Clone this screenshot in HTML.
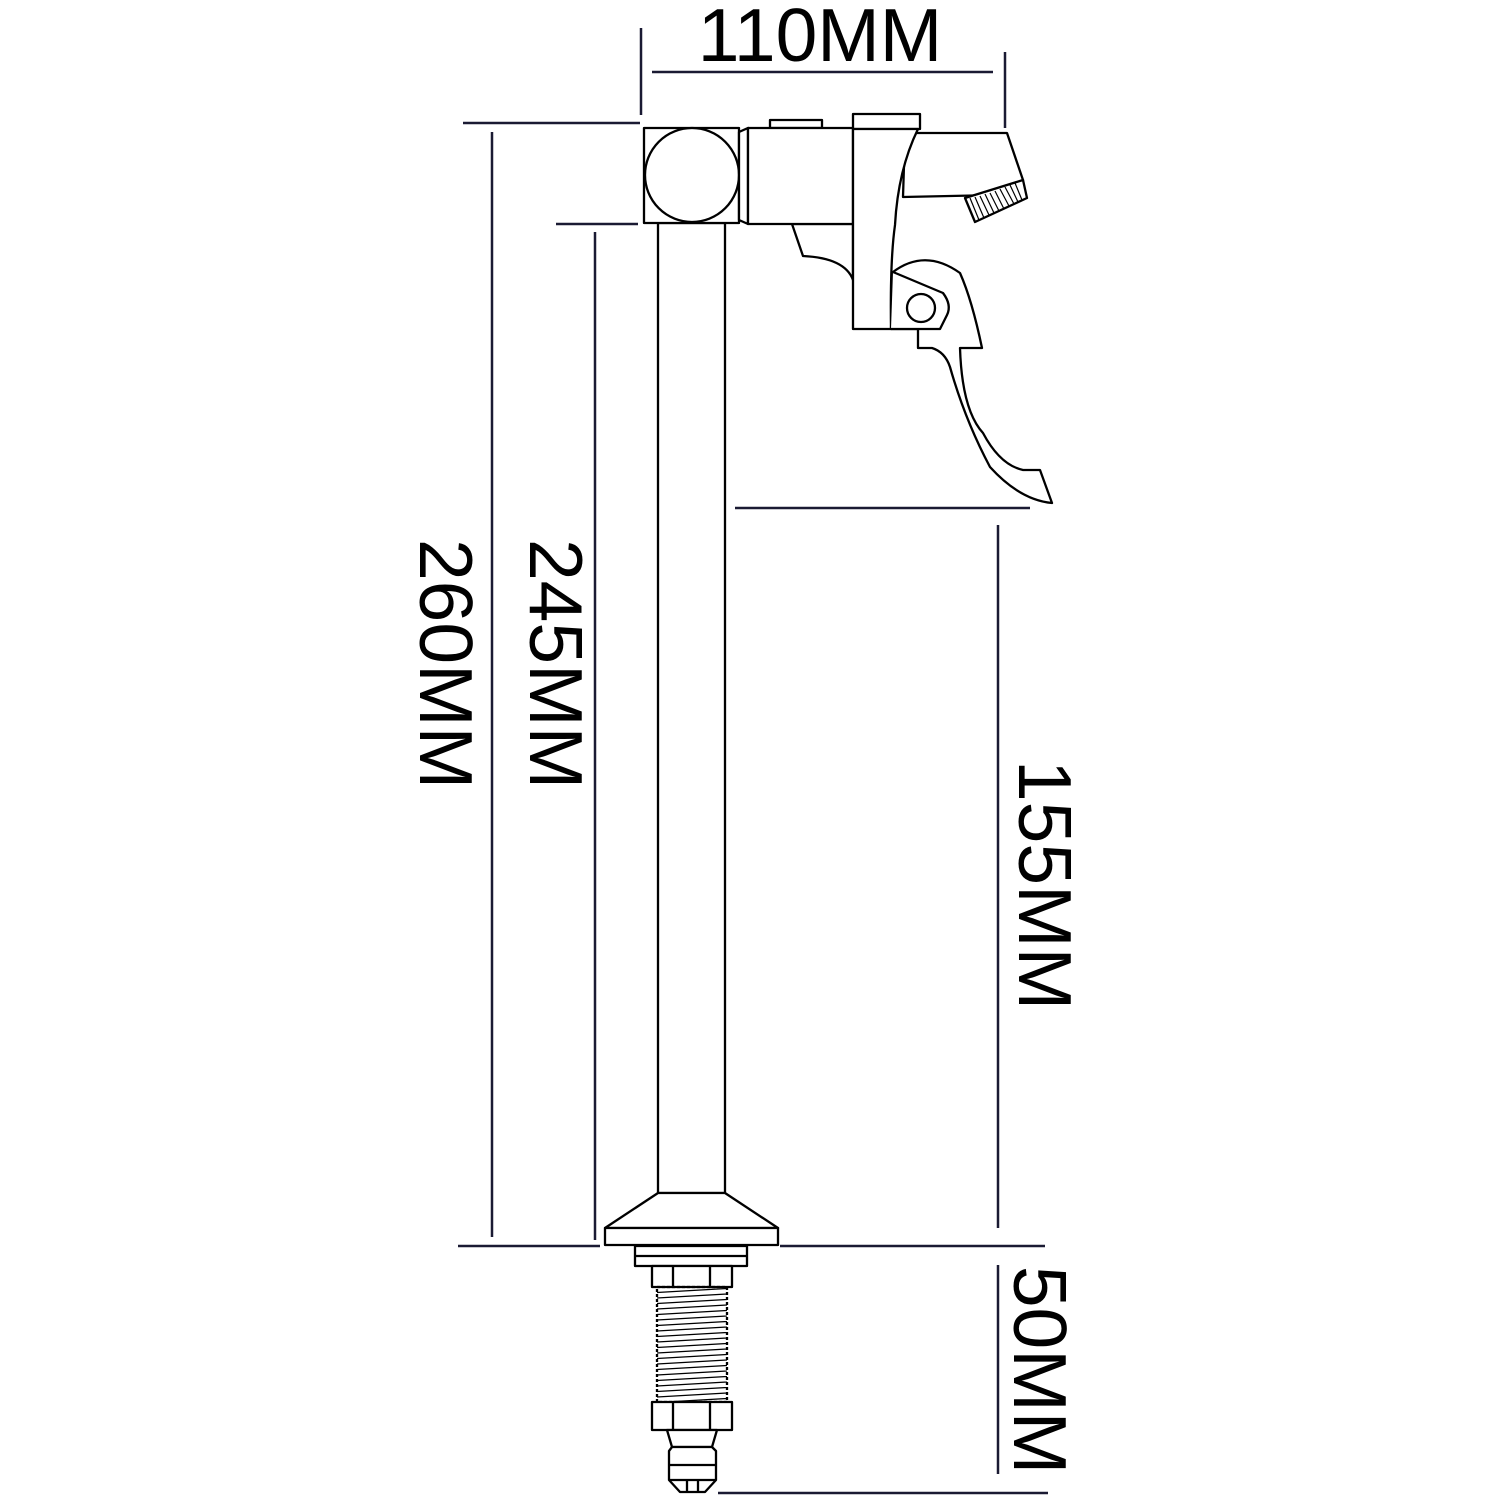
<!DOCTYPE html>
<html><head><style>html,body{margin:0;padding:0;background:#fff}svg{display:block}</style></head><body>
<svg width="1500" height="1500" viewBox="0 0 1500 1500" xmlns="http://www.w3.org/2000/svg">
<defs>
<pattern id="th" patternUnits="userSpaceOnUse" x="657" y="1288" width="70" height="5.5">
<line x1="0" y1="4.5" x2="70" y2="0.5" stroke="#000" stroke-width="1.3"/>
</pattern>
</defs>
<g stroke="#1a1a33" stroke-width="2.5" fill="none">
<line x1="641" y1="28" x2="641" y2="115"/>
<line x1="1005" y1="52" x2="1005" y2="128"/>
<line x1="652" y1="72" x2="993" y2="72"/>
<line x1="463" y1="123" x2="640" y2="123"/>
<line x1="492" y1="132" x2="492" y2="1237"/>
<line x1="458" y1="1246" x2="600" y2="1246"/>
<line x1="780" y1="1246" x2="1045" y2="1246"/>
<line x1="556" y1="224" x2="638" y2="224"/>
<line x1="595" y1="232" x2="595" y2="1240"/>
<line x1="735" y1="508" x2="1030" y2="508"/>
<line x1="998" y1="525" x2="998" y2="1228"/>
<line x1="998" y1="1265" x2="998" y2="1474"/>
<line x1="718" y1="1493" x2="1048" y2="1493"/>
</g>
<g stroke="#000" stroke-width="2.3" fill="#fff" stroke-linejoin="round">
<rect x="658" y="223" width="67" height="970"/>
<rect x="644" y="128" width="95" height="95"/>
<circle cx="692" cy="175" r="47"/>
<path d="M739 132 L748 128 L748 224 L739 220 Z"/>
<rect x="770" y="120" width="52" height="8"/>
<path d="M792 224 L803 256 Q845 258 853 280 L853 224 Z"/>
<path d="M905 133 L1007 133 L1023 180 L997 195 L903 197 Z"/>
<path d="M965 198 L975 222 L1027 198 L1023 180 Z"/>
<rect x="748" y="128" width="105" height="96"/>
<rect x="853" y="114" width="67" height="15"/>
<path d="M853 129 L918 129 Q898 170 895 225 Q890 260 891 329 L853 329 Z"/>
<path d="M893 272 Q925 248 960 273 Q972 300 982 348 L960 348 Q962 410 983 433 Q1000 465 1023 470 L1040 470 L1052 503 Q1020 500 990 467 Q965 420 950 367 Q945 352 932 348 L918 348 L918 329 L891 329 Z"/>
<path d="M893 272 L943 293 Q952 305 947 315 L940 329 L891 329"/>
<circle cx="921" cy="308" r="14"/>
<path d="M658 1193 L725 1193 L778 1228 L605 1228 Z"/>
<rect x="605" y="1228" width="173" height="17"/>
<rect x="635" y="1246" width="112" height="20"/>
<line x1="635" y1="1256" x2="747" y2="1256"/>
<rect x="652" y="1266" width="80" height="21"/>
<line x1="673" y1="1266" x2="673" y2="1287"/>
<line x1="710" y1="1266" x2="710" y2="1287"/>
<rect x="657" y="1287" width="70" height="115" fill="url(#th)" stroke-dasharray="3 2"/>
<rect x="652" y="1402" width="80" height="28"/>
<line x1="673" y1="1402" x2="673" y2="1430"/>
<line x1="710" y1="1402" x2="710" y2="1430"/>
<path d="M667 1430 L717 1430 L712 1447 L672 1447 Z"/>
<path d="M672 1447 L712 1447 L716 1451 L716 1480 L705 1492 L680 1492 L669 1480 L669 1451 Z"/>
<line x1="669" y1="1465" x2="716" y2="1465"/>
<line x1="669" y1="1480" x2="716" y2="1480"/>
<line x1="687" y1="1480" x2="687" y2="1492"/>
<line x1="698" y1="1480" x2="698" y2="1492"/>
</g>
<g stroke="#000" stroke-width="1.2">
<line x1="970" y1="198" x2="979" y2="220"/><line x1="975" y1="197" x2="984" y2="218"/>
<line x1="980" y1="196" x2="989" y2="215"/><line x1="985" y1="194" x2="994" y2="213"/>
<line x1="990" y1="193" x2="999" y2="211"/><line x1="995" y1="191" x2="1004" y2="209"/>
<line x1="1000" y1="189" x2="1009" y2="206"/><line x1="1005" y1="187" x2="1014" y2="204"/>
<line x1="1010" y1="185" x2="1018" y2="202"/><line x1="1015" y1="183" x2="1022" y2="200"/>
</g>
<g font-family="Liberation Sans, sans-serif" font-size="75" fill="#000" text-anchor="middle" dominant-baseline="central">
<text x="820" y="35">110MM</text>
<text x="446" y="664" transform="rotate(90 446 664)">260MM</text>
<text x="556" y="664" transform="rotate(90 556 664)">245MM</text>
<text x="1045" y="885" transform="rotate(90 1045 885)">155MM</text>
<text x="1040" y="1370" transform="rotate(90 1040 1370)">50MM</text>
</g>
</svg>
</body></html>
